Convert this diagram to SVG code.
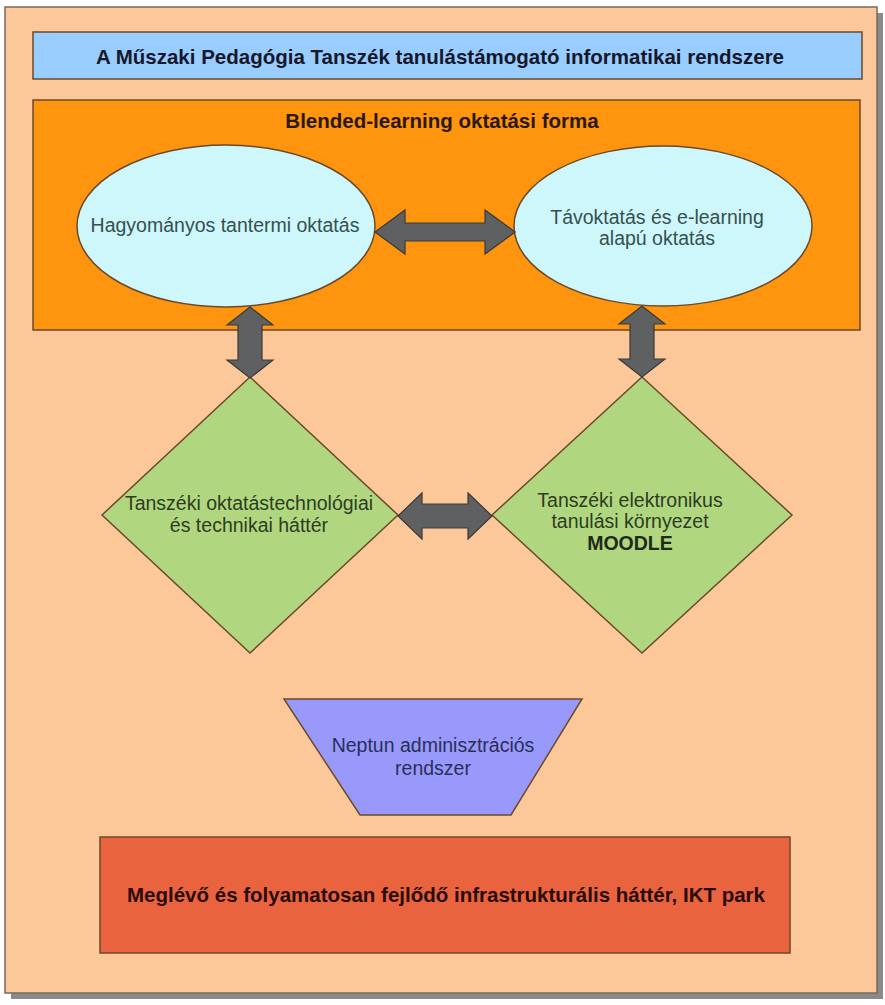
<svg xmlns="http://www.w3.org/2000/svg" width="885" height="1005" viewBox="0 0 885 1005">
  <style>
    .t { font-family: "Liberation Sans", Arial, sans-serif; text-anchor: middle; }
    .b { font-weight: bold; font-size: 20.5px; }
    .r { font-size: 19.5px; }
    .edge { stroke: #6b4a2a; stroke-width: 1.5; }
    .arrow { fill: #5f6062; stroke: #3a3a3a; stroke-width: 1.2; stroke-linejoin: miter; }
  </style>
  <rect x="0" y="0" width="885" height="1005" fill="#ffffff"/>
  <g id="frame">
    <rect x="11" y="13" width="872" height="986" fill="#8a8a8a"/>
    <rect x="5" y="7" width="872" height="986" fill="#fdc899" stroke="#7a6a5a" stroke-width="1.5"/>
  </g>
  <g id="title">
    <rect x="33" y="32" width="829" height="47" fill="#99ccff" class="edge"/>
    <text class="t b" x="440" y="64" fill="#15182a">A Műszaki Pedagógia Tanszék tanulástámogató informatikai rendszere</text>
  </g>
  <g id="blended">
    <rect x="33" y="100" width="827" height="230" fill="#ff940f" class="edge"/>
    <text class="t b" x="442" y="128" fill="#2a1808">Blended-learning oktatási forma</text>
  </g>
  <g id="hagyomanyos">
    <ellipse cx="226" cy="226" rx="149" ry="81" fill="#cef7fb" class="edge"/>
    <text class="t r" x="225" y="232" fill="#35504f">Hagyományos tantermi oktatás</text>
  </g>
  <g id="tavoktatas">
    <ellipse cx="663" cy="226" rx="149" ry="80" fill="#cef7fb" class="edge"/>
    <text class="t r" x="657" y="224" fill="#35504f">Távoktatás és e-learning</text>
    <text class="t r" x="657" y="245" fill="#35504f">alapú oktatás</text>
  </g>
  <g id="technologia">
    <polygon points="250,377 398,515 250,653 102,515" fill="#b1d680" class="edge"/>
    <text class="t r" x="249" y="510" fill="#2c3d22">Tanszéki oktatástechnológiai</text>
    <text class="t r" x="249" y="532" fill="#2c3d22">és technikai háttér</text>
  </g>
  <g id="moodle">
    <polygon points="642,377 792,515 642,653 492,515" fill="#b1d680" class="edge"/>
    <text class="t r" x="630" y="507" fill="#2c3d22">Tanszéki elektronikus</text>
    <text class="t r" x="630" y="528" fill="#2c3d22">tanulási környezet</text>
    <text class="t r" x="630" y="550" fill="#1e2a16" font-weight="bold">MOODLE</text>
  </g>
  <g id="neptun">
    <polygon points="284,699 582,699 511,815 360,815" fill="#9999fb" class="edge"/>
    <text class="t r" x="433" y="752" fill="#2a2f5a">Neptun adminisztrációs</text>
    <text class="t r" x="433" y="775" fill="#2a2f5a">rendszer</text>
  </g>
  <g id="infrastruktura">
    <rect x="100" y="837" width="690" height="116" fill="#e9633f" class="edge"/>
    <text class="t b" x="446" y="902" fill="#2a0c04">Meglévő és folyamatosan fejlődő infrastrukturális háttér, IKT park</text>
  </g>
  <g id="connectors">
    <polygon class="arrow" points="375,232 405,210 405,223 485,223 485,210 515,232 485,254 485,241 405,241 405,254"/>
    <polygon class="arrow" points="250,307 273,325 262,325 262,360 273,360 250,378 227,360 238,360 238,325 227,325"/>
    <polygon class="arrow" points="642,306 665,324 654,324 654,359 665,359 642,377 619,359 630,359 630,324 619,324"/>
    <polygon class="arrow" points="398,516 422,493 422,504 468,504 468,493 492,516 468,539 468,528 422,528 422,539"/>
  </g>
</svg>
